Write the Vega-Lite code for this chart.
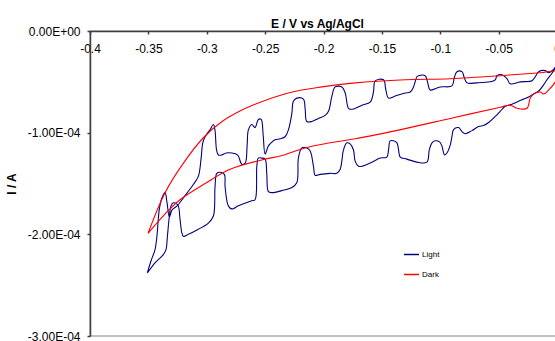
{
 "$schema": "https://vega.github.io/schema/vega-lite/v6.json",
 "width": 467,
 "height": 305,
 "autosize": {"type": "none"},
 "padding": {"left": 90, "top": 31, "right": 0, "bottom": 5},
 "background": "white",
 "config": {"font": "Liberation Sans", "view": {"stroke": "#c0c0c0", "strokeWidth": 2}},
 "title": {"text": "E / V vs Ag/AgCl", "fontSize": 12, "fontWeight": "bold", "font": "Liberation Sans", "frame": "group", "anchor": "middle", "offset": 6, "baseline": "alphabetic", "dx": -6, "dy": 21, "color": "black"},
 "data": {"values": [
{"s":"Light","i":1,"E":-0.3509,"I":-2.38e-4},
{"s":"Light","i":2,"E":-0.3477,"I":-2.26e-4},
{"s":"Light","i":3,"E":-0.3443,"I":-2.15e-4},
{"s":"Light","i":4,"E":-0.3426,"I":-2.01e-4},
{"s":"Light","i":5,"E":-0.3406,"I":-1.75e-4},
{"s":"Light","i":6,"E":-0.3383,"I":-1.64e-4},
{"s":"Light","i":7,"E":-0.3357,"I":-1.59e-4},
{"s":"Light","i":8,"E":-0.334,"I":-1.69e-4},
{"s":"Light","i":9,"E":-0.332,"I":-1.83e-4},
{"s":"Light","i":10,"E":-0.3297,"I":-1.76e-4},
{"s":"Light","i":11,"E":-0.3254,"I":-1.72e-4},
{"s":"Light","i":12,"E":-0.3186,"I":-1.62e-4},
{"s":"Light","i":13,"E":-0.3115,"I":-1.51e-4},
{"s":"Light","i":14,"E":-0.3072,"I":-1.43e-4},
{"s":"Light","i":15,"E":-0.3049,"I":-1.26e-4},
{"s":"Light","i":16,"E":-0.3034,"I":-1.10e-4},
{"s":"Light","i":17,"E":-0.3014,"I":-1.04e-4},
{"s":"Light","i":18,"E":-0.2971,"I":-0.97e-4},
{"s":"Light","i":19,"E":-0.2943,"I":-0.92e-4},
{"s":"Light","i":20,"E":-0.2929,"I":-0.98e-4},
{"s":"Light","i":21,"E":-0.2916,"I":-1.17e-4},
{"s":"Light","i":22,"E":-0.29,"I":-1.22e-4},
{"s":"Light","i":23,"E":-0.2871,"I":-1.22e-4},
{"s":"Light","i":24,"E":-0.2834,"I":-1.20e-4},
{"s":"Light","i":25,"E":-0.2785,"I":-1.20e-4},
{"s":"Light","i":26,"E":-0.2749,"I":-1.21e-4},
{"s":"Light","i":27,"E":-0.2729,"I":-1.23e-4},
{"s":"Light","i":28,"E":-0.27,"I":-1.31e-4},
{"s":"Light","i":29,"E":-0.2671,"I":-1.30e-4},
{"s":"Light","i":30,"E":-0.2654,"I":-1.12e-4},
{"s":"Light","i":31,"E":-0.2643,"I":-0.97e-4},
{"s":"Light","i":32,"E":-0.2614,"I":-0.92e-4},
{"s":"Light","i":33,"E":-0.2586,"I":-0.95e-4},
{"s":"Light","i":34,"E":-0.2558,"I":-0.87e-4},
{"s":"Light","i":35,"E":-0.2534,"I":-0.87e-4},
{"s":"Light","i":36,"E":-0.2517,"I":-1.02e-4},
{"s":"Light","i":37,"E":-0.25,"I":-1.21e-4},
{"s":"Light","i":38,"E":-0.2472,"I":-1.13e-4},
{"s":"Light","i":39,"E":-0.244,"I":-1.09e-4},
{"s":"Light","i":40,"E":-0.2414,"I":-1.07e-4},
{"s":"Light","i":41,"E":-0.2372,"I":-1.06e-4},
{"s":"Light","i":42,"E":-0.2329,"I":-1.04e-4},
{"s":"Light","i":43,"E":-0.23,"I":-0.97e-4},
{"s":"Light","i":44,"E":-0.2271,"I":-0.81e-4},
{"s":"Light","i":45,"E":-0.2258,"I":-0.69e-4},
{"s":"Light","i":46,"E":-0.2228,"I":-0.66e-4},
{"s":"Light","i":47,"E":-0.2172,"I":-0.67e-4},
{"s":"Light","i":48,"E":-0.2157,"I":-0.77e-4},
{"s":"Light","i":49,"E":-0.2143,"I":-0.89e-4},
{"s":"Light","i":50,"E":-0.21,"I":-0.89e-4},
{"s":"Light","i":51,"E":-0.2043,"I":-0.86e-4},
{"s":"Light","i":52,"E":-0.1986,"I":-0.83e-4},
{"s":"Light","i":53,"E":-0.1957,"I":-0.79e-4},
{"s":"Light","i":54,"E":-0.1928,"I":-0.64e-4},
{"s":"Light","i":55,"E":-0.19,"I":-0.55e-4},
{"s":"Light","i":56,"E":-0.1843,"I":-0.55e-4},
{"s":"Light","i":57,"E":-0.1814,"I":-0.61e-4},
{"s":"Light","i":58,"E":-0.1786,"I":-0.76e-4},
{"s":"Light","i":59,"E":-0.1757,"I":-0.77e-4},
{"s":"Light","i":60,"E":-0.1671,"I":-0.73e-4},
{"s":"Light","i":61,"E":-0.16,"I":-0.70e-4},
{"s":"Light","i":62,"E":-0.1572,"I":-0.60e-4},
{"s":"Light","i":63,"E":-0.1557,"I":-0.49e-4},
{"s":"Light","i":64,"E":-0.1486,"I":-0.48e-4},
{"s":"Light","i":65,"E":-0.1466,"I":-0.58e-4},
{"s":"Light","i":66,"E":-0.1443,"I":-0.66e-4},
{"s":"Light","i":67,"E":-0.1386,"I":-0.64e-4},
{"s":"Light","i":68,"E":-0.13,"I":-0.61e-4},
{"s":"Light","i":69,"E":-0.1257,"I":-0.60e-4},
{"s":"Light","i":70,"E":-0.1229,"I":-0.55e-4},
{"s":"Light","i":71,"E":-0.12,"I":-0.45e-4},
{"s":"Light","i":72,"E":-0.1186,"I":-0.44e-4},
{"s":"Light","i":73,"E":-0.1129,"I":-0.44e-4},
{"s":"Light","i":74,"E":-0.1109,"I":-0.50e-4},
{"s":"Light","i":75,"E":-0.1086,"I":-0.58e-4},
{"s":"Light","i":76,"E":-0.10,"I":-0.55e-4},
{"s":"Light","i":77,"E":-0.09,"I":-0.54e-4},
{"s":"Light","i":78,"E":-0.088,"I":-0.46e-4},
{"s":"Light","i":79,"E":-0.0857,"I":-0.40e-4},
{"s":"Light","i":80,"E":-0.0814,"I":-0.40e-4},
{"s":"Light","i":81,"E":-0.0794,"I":-0.46e-4},
{"s":"Light","i":82,"E":-0.0771,"I":-0.51e-4},
{"s":"Light","i":83,"E":-0.0686,"I":-0.51e-4},
{"s":"Light","i":84,"E":-0.0572,"I":-0.50e-4},
{"s":"Light","i":85,"E":-0.0529,"I":-0.48e-4},
{"s":"Light","i":86,"E":-0.0514,"I":-0.44e-4},
{"s":"Light","i":87,"E":-0.0471,"I":-0.43e-4},
{"s":"Light","i":88,"E":-0.0428,"I":-0.47e-4},
{"s":"Light","i":89,"E":-0.04,"I":-0.52e-4},
{"s":"Light","i":90,"E":-0.0314,"I":-0.50e-4},
{"s":"Light","i":91,"E":-0.0214,"I":-0.49e-4},
{"s":"Light","i":92,"E":-0.0186,"I":-0.45e-4},
{"s":"Light","i":93,"E":-0.0157,"I":-0.40e-4},
{"s":"Light","i":94,"E":-0.01,"I":-0.39e-4},
{"s":"Light","i":95,"E":-0.0072,"I":-0.41e-4},
{"s":"Light","i":96,"E":-0.0031,"I":-0.38e-4},
{"s":"Light","i":97,"E":0,"I":-0.33e-4},
{"s":"Light","i":98,"E":-0.004,"I":-0.41e-4},
{"s":"Light","i":99,"E":-0.0086,"I":-0.48e-4},
{"s":"Light","i":100,"E":-0.0115,"I":-0.53e-4},
{"s":"Light","i":101,"E":-0.0157,"I":-0.59e-4},
{"s":"Light","i":102,"E":-0.02,"I":-0.62e-4},
{"s":"Light","i":103,"E":-0.0243,"I":-0.65e-4},
{"s":"Light","i":104,"E":-0.0286,"I":-0.67e-4},
{"s":"Light","i":105,"E":-0.0329,"I":-0.69e-4},
{"s":"Light","i":106,"E":-0.0386,"I":-0.72e-4},
{"s":"Light","i":107,"E":-0.0443,"I":-0.74e-4},
{"s":"Light","i":108,"E":-0.0486,"I":-0.79e-4},
{"s":"Light","i":109,"E":-0.0529,"I":-0.84e-4},
{"s":"Light","i":110,"E":-0.0586,"I":-0.90e-4},
{"s":"Light","i":111,"E":-0.0629,"I":-0.93e-4},
{"s":"Light","i":112,"E":-0.0672,"I":-0.94e-4},
{"s":"Light","i":113,"E":-0.0728,"I":-0.98e-4},
{"s":"Light","i":114,"E":-0.0786,"I":-1.01e-4},
{"s":"Light","i":115,"E":-0.0814,"I":-0.99e-4},
{"s":"Light","i":116,"E":-0.0843,"I":-0.95e-4},
{"s":"Light","i":117,"E":-0.0886,"I":-0.97e-4},
{"s":"Light","i":118,"E":-0.09,"I":-1.04e-4},
{"s":"Light","i":119,"E":-0.0914,"I":-1.12e-4},
{"s":"Light","i":120,"E":-0.0943,"I":-1.20e-4},
{"s":"Light","i":121,"E":-0.0963,"I":-1.22e-4},
{"s":"Light","i":122,"E":-0.0986,"I":-1.13e-4},
{"s":"Light","i":123,"E":-0.1006,"I":-1.09e-4},
{"s":"Light","i":124,"E":-0.1043,"I":-1.08e-4},
{"s":"Light","i":125,"E":-0.1071,"I":-1.10e-4},
{"s":"Light","i":126,"E":-0.1094,"I":-1.17e-4},
{"s":"Light","i":127,"E":-0.1114,"I":-1.29e-4},
{"s":"Light","i":128,"E":-0.12,"I":-1.29e-4},
{"s":"Light","i":129,"E":-0.1286,"I":-1.26e-4},
{"s":"Light","i":130,"E":-0.1343,"I":-1.24e-4},
{"s":"Light","i":131,"E":-0.1357,"I":-1.17e-4},
{"s":"Light","i":132,"E":-0.1371,"I":-1.10e-4},
{"s":"Light","i":133,"E":-0.14,"I":-1.08e-4},
{"s":"Light","i":134,"E":-0.1429,"I":-1.08e-4},
{"s":"Light","i":135,"E":-0.1443,"I":-1.17e-4},
{"s":"Light","i":136,"E":-0.1457,"I":-1.24e-4},
{"s":"Light","i":137,"E":-0.1514,"I":-1.25e-4},
{"s":"Light","i":138,"E":-0.1586,"I":-1.29e-4},
{"s":"Light","i":139,"E":-0.1669,"I":-1.33e-4},
{"s":"Light","i":140,"E":-0.17,"I":-1.33e-4},
{"s":"Light","i":141,"E":-0.1729,"I":-1.28e-4},
{"s":"Light","i":142,"E":-0.1743,"I":-1.17e-4},
{"s":"Light","i":143,"E":-0.1772,"I":-1.11e-4},
{"s":"Light","i":144,"E":-0.18,"I":-1.10e-4},
{"s":"Light","i":145,"E":-0.1829,"I":-1.17e-4},
{"s":"Light","i":146,"E":-0.1843,"I":-1.28e-4},
{"s":"Light","i":147,"E":-0.1857,"I":-1.36e-4},
{"s":"Light","i":148,"E":-0.1886,"I":-1.40e-4},
{"s":"Light","i":149,"E":-0.1943,"I":-1.40e-4},
{"s":"Light","i":150,"E":-0.2029,"I":-1.41e-4},
{"s":"Light","i":151,"E":-0.2071,"I":-1.42e-4},
{"s":"Light","i":152,"E":-0.2086,"I":-1.33e-4},
{"s":"Light","i":153,"E":-0.2114,"I":-1.18e-4},
{"s":"Light","i":154,"E":-0.2143,"I":-1.15e-4},
{"s":"Light","i":155,"E":-0.2186,"I":-1.15e-4},
{"s":"Light","i":156,"E":-0.2215,"I":-1.25e-4},
{"s":"Light","i":157,"E":-0.2228,"I":-1.49e-4},
{"s":"Light","i":158,"E":-0.2271,"I":-1.54e-4},
{"s":"Light","i":159,"E":-0.2357,"I":-1.57e-4},
{"s":"Light","i":160,"E":-0.2443,"I":-1.59e-4},
{"s":"Light","i":161,"E":-0.2472,"I":-1.58e-4},
{"s":"Light","i":162,"E":-0.2486,"I":-1.40e-4},
{"s":"Light","i":163,"E":-0.25,"I":-1.26e-4},
{"s":"Light","i":164,"E":-0.2528,"I":-1.25e-4},
{"s":"Light","i":165,"E":-0.2558,"I":-1.25e-4},
{"s":"Light","i":166,"E":-0.2571,"I":-1.33e-4},
{"s":"Light","i":167,"E":-0.2586,"I":-1.66e-4},
{"s":"Light","i":168,"E":-0.2614,"I":-1.67e-4},
{"s":"Light","i":169,"E":-0.2729,"I":-1.72e-4},
{"s":"Light","i":170,"E":-0.2785,"I":-1.75e-4},
{"s":"Light","i":171,"E":-0.2815,"I":-1.72e-4},
{"s":"Light","i":172,"E":-0.2843,"I":-1.53e-4},
{"s":"Light","i":173,"E":-0.2849,"I":-1.41e-4},
{"s":"Light","i":174,"E":-0.2886,"I":-1.39e-4},
{"s":"Light","i":175,"E":-0.2914,"I":-1.40e-4},
{"s":"Light","i":176,"E":-0.2929,"I":-1.53e-4},
{"s":"Light","i":177,"E":-0.2943,"I":-1.82e-4},
{"s":"Light","i":178,"E":-0.2986,"I":-1.89e-4},
{"s":"Light","i":179,"E":-0.3072,"I":-1.95e-4},
{"s":"Light","i":180,"E":-0.3157,"I":-2.00e-4},
{"s":"Light","i":181,"E":-0.32,"I":-2.02e-4},
{"s":"Light","i":182,"E":-0.3214,"I":-1.98e-4},
{"s":"Light","i":183,"E":-0.3229,"I":-1.85e-4},
{"s":"Light","i":184,"E":-0.3243,"I":-1.72e-4},
{"s":"Light","i":185,"E":-0.3257,"I":-1.70e-4},
{"s":"Light","i":186,"E":-0.3286,"I":-1.69e-4},
{"s":"Light","i":187,"E":-0.3306,"I":-1.72e-4},
{"s":"Light","i":188,"E":-0.332,"I":-1.82e-4},
{"s":"Light","i":189,"E":-0.3337,"I":-2.02e-4},
{"s":"Light","i":190,"E":-0.3349,"I":-2.15e-4},
{"s":"Light","i":191,"E":-0.3372,"I":-2.20e-4},
{"s":"Light","i":192,"E":-0.3443,"I":-2.28e-4},
{"s":"Light","i":193,"E":-0.3509,"I":-2.38e-4},
{"s":"Dark","i":1,"E":-0.3503,"I":-1.99e-4},
{"s":"Dark","i":2,"E":-0.3366,"I":-1.81e-4},
{"s":"Dark","i":3,"E":-0.3229,"I":-1.66e-4},
{"s":"Dark","i":4,"E":-0.3014,"I":-1.50e-4},
{"s":"Dark","i":5,"E":-0.28,"I":-1.36e-4},
{"s":"Dark","i":6,"E":-0.25,"I":-1.26e-4},
{"s":"Dark","i":7,"E":-0.2371,"I":-1.23e-4},
{"s":"Dark","i":8,"E":-0.2157,"I":-1.15e-4},
{"s":"Dark","i":9,"E":-0.1943,"I":-1.10e-4},
{"s":"Dark","i":10,"E":-0.1729,"I":-1.06e-4},
{"s":"Dark","i":11,"E":-0.13,"I":-0.96e-4},
{"s":"Dark","i":12,"E":-0.0914,"I":-0.86e-4},
{"s":"Dark","i":13,"E":-0.0486,"I":-0.75e-4},
{"s":"Dark","i":14,"E":-0.04,"I":-0.73e-4},
{"s":"Dark","i":15,"E":-0.0343,"I":-0.76e-4},
{"s":"Dark","i":16,"E":-0.0257,"I":-0.76e-4},
{"s":"Dark","i":17,"E":-0.0229,"I":-0.66e-4},
{"s":"Dark","i":18,"E":-0.02,"I":-0.62e-4},
{"s":"Dark","i":19,"E":-0.0143,"I":-0.60e-4},
{"s":"Dark","i":20,"E":-0.0114,"I":-0.62e-4},
{"s":"Dark","i":21,"E":-0.0071,"I":-0.58e-4},
{"s":"Dark","i":22,"E":-0.0014,"I":-0.50e-4},
{"s":"Dark","i":23,"E":0,"I":-0.46e-4},
{"s":"Dark","i":24,"E":0,"I":-0.40e-4},
{"s":"Dark","i":25,"E":-0.0143,"I":-0.41e-4},
{"s":"Dark","i":26,"E":-0.0486,"I":-0.44e-4},
{"s":"Dark","i":27,"E":-0.0914,"I":-0.47e-4},
{"s":"Dark","i":28,"E":-0.13,"I":-0.48e-4},
{"s":"Dark","i":29,"E":-0.1729,"I":-0.51e-4},
{"s":"Dark","i":30,"E":-0.2014,"I":-0.55e-4},
{"s":"Dark","i":31,"E":-0.2303,"I":-0.61e-4},
{"s":"Dark","i":32,"E":-0.2586,"I":-0.72e-4},
{"s":"Dark","i":33,"E":-0.2686,"I":-0.77e-4},
{"s":"Dark","i":34,"E":-0.2869,"I":-0.89e-4},
{"s":"Dark","i":35,"E":-0.3029,"I":-1.05e-4},
{"s":"Dark","i":36,"E":-0.3194,"I":-1.29e-4},
{"s":"Dark","i":37,"E":-0.3357,"I":-1.59e-4},
{"s":"Dark","i":38,"E":-0.3503,"I":-1.99e-4}
 ]},
 "mark": {"type": "line", "strokeWidth": 1.1, "clip": true, "interpolate": "catmull-rom"},
 "encoding": {
  "x": {"field": "E", "type": "quantitative",
   "scale": {"domain": [-0.4, 0], "nice": false, "zero": false},
   "axis": {"orient": "bottom", "offset": -305, "values": [-0.4, -0.35, -0.3, -0.25, -0.2, -0.15, -0.1, -0.05, 0],
    "labelExpr": "datum.value == 0 ? '0' : '-' + format(-datum.value, '~g')",
    "title": null, "grid": false, "domainColor": "#404040", "domainWidth": 1.5, "tickColor": "#404040", "tickWidth": 1.5, "tickSize": 3,
    "labelPadding": 9, "labelFontSize": 12, "labelFont": "Liberation Sans", "labelColor": "black", "labelFlush": false, "labelOverlap": false}},
  "y": {"field": "I", "type": "quantitative",
   "scale": {"domain": [-0.0003, 0], "nice": false, "zero": false},
   "axis": {"values": [0, -0.0001, -0.0002, -0.0003],
    "labelExpr": "datum.value == 0 ? '0.00E+00' : '-' + format(-datum.value * 10000, '.2f') + 'E-04'",
    "title": "I / A", "titleFontSize": 12, "titleFont": "Liberation Sans", "titleFontWeight": "bold", "titleColor": "black", "titlePadding": 9,
    "grid": false, "domainColor": "#404040", "domainWidth": 1.5, "tickColor": "#404040", "tickWidth": 1.5, "tickSize": 3,
    "labelPadding": 7, "labelFontSize": 12, "labelFont": "Liberation Sans", "labelColor": "black", "labelFlush": false, "labelOverlap": false}},
  "color": {"field": "s", "type": "nominal",
   "scale": {"domain": ["Light", "Dark"], "range": ["#000080", "#ff0000"]},
   "legend": {"orient": "none", "legendX": 313, "legendY": 215, "title": null, "symbolType": "stroke", "symbolSize": 225, "symbolStrokeWidth": 1.5,
    "labelFontSize": 8, "labelFont": "Liberation Sans", "labelColor": "black", "labelOffset": 2, "rowPadding": 7, "padding": 0}},
  "order": {"field": "i"}
 }
}
